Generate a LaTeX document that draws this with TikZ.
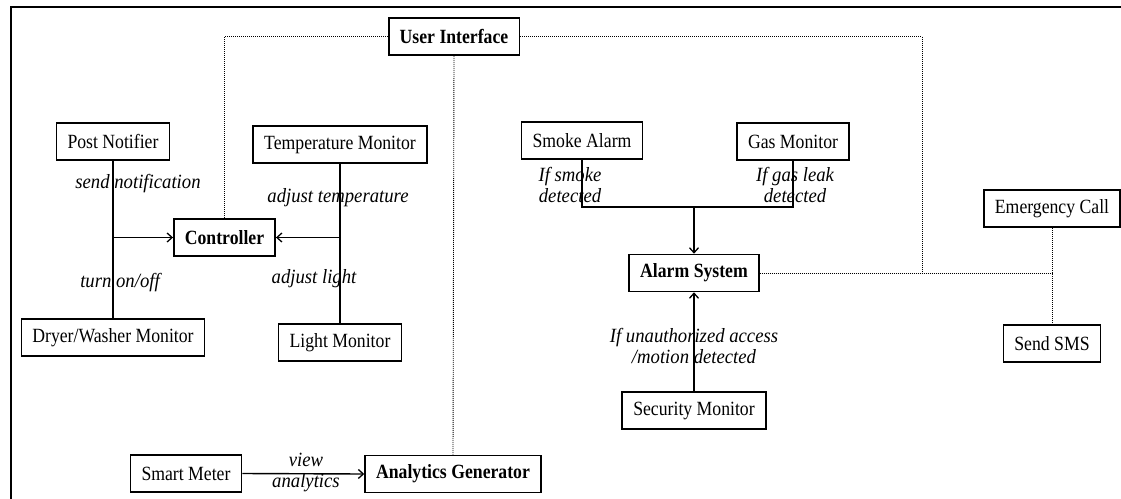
\documentclass[tikz,border=0pt]{standalone}
\usepackage{fontspec}
\usepackage{graphicx}
\setmainfont{Liberation Serif}
\usetikzlibrary{arrows.meta}
\newcommand\vs[1]{\scalebox{1}[1.14]{#1}}
\newcommand\vi[1]{\scalebox{1}[1.08]{#1}}
\newcommand\two[2]{\vi{\begin{tabular}{@{}c@{}}#1\\[-3.2pt]#2\end{tabular}}}
\begin{document}
\begin{tikzpicture}[x=1pt,y=-1pt,
  font=\fontsize{17.7}{22.5}\selectfont,
  box/.style={draw,line width=1.6pt,inner xsep=11pt,minimum height=37pt,inner ysep=0pt,anchor=center},
  bbox/.style={box,font=\fontsize{17.7}{22.5}\selectfont\bfseries},
  lbl/.style={font=\fontsize{18.7}{22.5}\selectfont\itshape,align=center,inner sep=0pt},
  conn/.style={line width=1.4pt,-{Straight Barb[length=5pt,width=9pt,line width=1.3pt]}},
  plain/.style={line width=1.4pt},
  dot/.style={line width=0.9pt,dash pattern=on 1pt off 1pt}]
\useasboundingbox (0,0) rectangle (1121,498);
\draw[line width=2pt] (11,499) -- (11,7) -- (1122,7);

% nodes
\node[bbox] (ui) at (454,36.5) {\vs{User Interface}};
\node[box] (post) at (113,141.5) {\vs{Post Notifier}};
\node[box] (temp) at (340,144.5) {\vs{Temperature Monitor}};
\node[bbox] (ctrl) at (224.5,237.5) {\vs{Controller}};
\node[box] (dryer) at (113,337.5) {\vs{Dryer/Washer Monitor}};
\node[box] (light) at (340,342.5) {\vs{Light Monitor}};
\node[box] (smart) at (186,473.5) {\vs{Smart Meter}};
\node[bbox] (ana) at (453,474) {\vs{Analytics Generator}};
\node[box] (smoke) at (582,140.5) {\vs{Smoke Alarm}};
\node[box] (gas) at (793,141.5) {\vs{Gas Monitor}};
\node[bbox] (alarm) at (694,273) {\vs{Alarm System}};
\node[box] (sec) at (694,410.5) {\vs{Security Monitor}};
\node[box] (em) at (1052,208.5) {\vs{Emergency Call}};
\node[box] (sms) at (1052,343.5) {\vs{Send SMS}};

% labels
\node[lbl] (l1) at (138,184) {\vi{send notification}};
\node[lbl] (l2) at (338,198) {\vi{adjust temperature}};
\node[lbl] (l3) at (120,283) {\vi{turn on/off}};
\node[lbl] (l4) at (314,279) {\vi{adjust light}};
\node[lbl] (l5) at (306,472) {\two{view}{analytics}};
\node[lbl] (l6) at (570,187.5) {\two{If smoke}{detected}};
\node[lbl] (l7) at (795,187.5) {\two{If gas leak}{detected}};
\node[lbl] (l8) at (694,348) {\two{If unauthorized access}{/motion detected}};

% solid connectors
\draw[plain] (post.south) -- (dryer.north);
\draw[conn] (post.south |- ctrl.west) -- (ctrl.west);
\draw[plain] (temp.south) -- (light.north);
\draw[conn] (temp.south |- ctrl.east) -- (ctrl.east);
\draw[conn] (smart.east) -- (ana.west);
\coordinate (jn) at (694,207);
\draw[plain] (smoke.south) |- (jn) -| (gas.south);
\draw[conn] (jn) -- (alarm.north);
\draw[conn] (sec.north) -- (alarm.south);

% dotted connectors
\coordinate (uj) at (922,273);
\draw[dot] (ui.west) -| (ctrl.north);
\draw[dot] (ui.south) -- (ana.north);
\draw[dot] (ui.east) -| (uj);
\draw[dot] (alarm.east) -- (em.south |- alarm.east);
\draw[dot] (em.south) -- (sms.north);
\end{tikzpicture}
\end{document}
